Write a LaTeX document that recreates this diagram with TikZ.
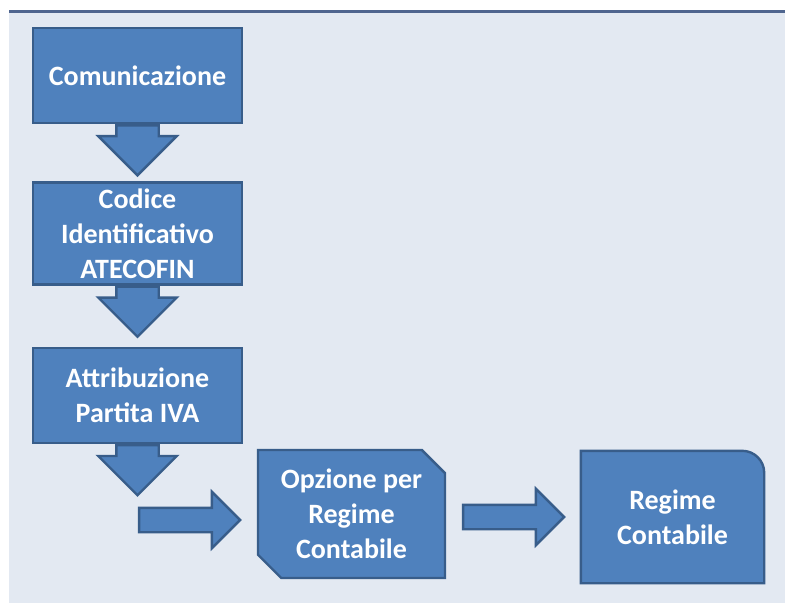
\documentclass[tikz,border=0pt]{standalone}
\usepackage{fontspec}
\setmainfont{Carlito}
\usetikzlibrary{positioning,shapes.arrows,shapes.misc,backgrounds}
\definecolor{boxblue}{RGB}{79,129,189}
\definecolor{boxedge}{RGB}{56,93,138}
\definecolor{paneblue}{RGB}{227,233,242}
\definecolor{lineblue}{RGB}{79,101,143}

\tikzset{
	stepbox/.style={draw=boxedge,fill=boxblue,line width=1.2pt,text=white,font=\bfseries\fontsize{14}{17.5}\selectfont,align=center,inner sep=0pt,minimum width=104.5pt},
	downarrow/.style={single arrow,draw=boxedge,fill=boxblue,line width=1.2pt,rotate=-90,anchor=tail,inner xsep=0pt,inner ysep=10pt,single arrow head extend=9pt,minimum width=0pt,minimum height=25pt},
	sidearrow/.style={single arrow,draw=boxedge,fill=boxblue,line width=1.2pt,anchor=tip,inner xsep=0pt,inner ysep=5.5pt,single arrow head extend=8pt,minimum width=0pt,minimum height=50.5pt}
}

\begin{document}
\begin{tikzpicture}[x=0.5pt,y=-0.5pt]
			\useasboundingbox (0,0) rectangle (785,603);
			\begin{scope}[on background layer]
			\fill[paneblue] (9,11) rectangle (785,603);
			\draw[lineblue,line width=1.5pt] (9,12) -- (785,12);
			\end{scope}
			
			% vertical chain
			\node[stepbox,minimum height=47.5pt] (B1) at (137.5,75.5) {Comunicazione};
			\node[stepbox,minimum height=51pt,below=28.5pt of B1] (B2) {Codice\\Identificativo\\ATECOFIN};
			\node[stepbox,minimum height=47.5pt,below=30.5pt of B2] (B3) {Attribuzione\\Partita IVA};
			\foreach \b in {B1,B2,B3}
			\node[downarrow] (A\b) at (\b.south) {};
			
			% bottom row
			\node[stepbox,chamfered rectangle,chamfered rectangle corners={north east,south west},chamfered rectangle sep=5.8pt,minimum width=93.5pt,minimum height=64pt] (B4) at (351.5,514) {Opzione per\\Regime\\Contabile};
			\node[stepbox,draw=none,fill=none,minimum width=90.5pt,minimum height=65pt] (B5) at (672.5,517) {Regime\\Contabile};
			\begin{scope}[on background layer]
			\filldraw[draw=boxedge,fill=boxblue,line width=1.2pt] (B5.south west) -- (B5.north west) -- ([xshift=-11pt]B5.north east) arc[start angle=90,end angle=0,radius=11pt] -- (B5.south east) -- cycle;
			\end{scope}
			\node[sidearrow] (A4) at ([xshift=-7.5pt,yshift=-3pt]B4.west) {};
			\node[sidearrow] (A5) at ([xshift=-7.5pt]B5.west) {};
		\end{tikzpicture}
\end{document}
